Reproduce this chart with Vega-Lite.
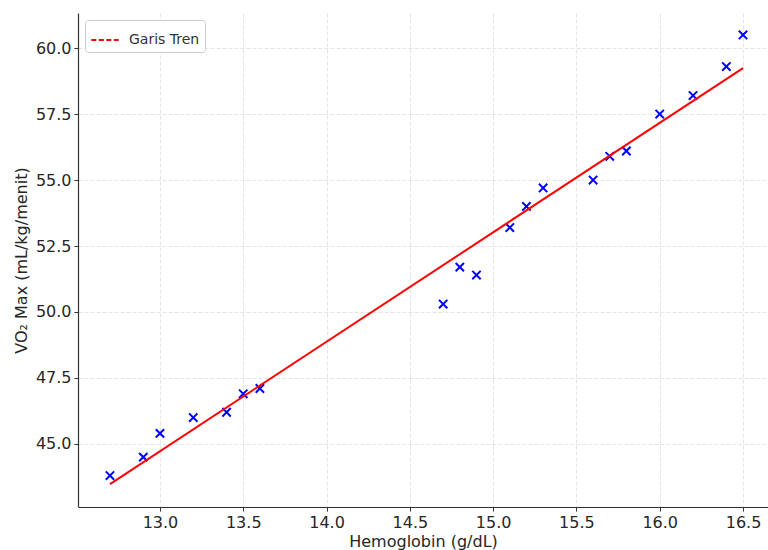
{
  "$schema": "https://vega.github.io/schema/vega-lite/v6.json",
  "autosize": {"type": "none"},
  "padding": {"left": 78, "top": 13, "right": 0, "bottom": 43},
  "width": 690,
  "height": 494,
  "background": "white",
  "config": {
    "font": "DejaVu Sans",
    "view": {"stroke": null},
    "axis": {
      "labelFont": "DejaVu Sans",
      "titleFont": "DejaVu Sans",
      "labelFontSize": 16,
      "titleFontSize": 16,
      "titleFontWeight": "normal",
      "labelColor": "#262626",
      "titleColor": "#262626",
      "domainColor": "#333333",
      "domainWidth": 1.2,
      "tickColor": "#333333",
      "tickSize": 4,
      "labelPadding": 3,
      "gridColor": "#dddddd",
      "gridDash": [4, 2],
      "gridWidth": 0.8
    }
  },
  "datasets": {
    "points": [
      {"hb": 12.7, "vo2": 43.8},
      {"hb": 12.9, "vo2": 44.5},
      {"hb": 13.0, "vo2": 45.4},
      {"hb": 13.2, "vo2": 46.0},
      {"hb": 13.4, "vo2": 46.2},
      {"hb": 13.5, "vo2": 46.9},
      {"hb": 13.6, "vo2": 47.1},
      {"hb": 14.7, "vo2": 50.3},
      {"hb": 14.8, "vo2": 51.7},
      {"hb": 14.9, "vo2": 51.4},
      {"hb": 15.1, "vo2": 53.2},
      {"hb": 15.2, "vo2": 54.0},
      {"hb": 15.3, "vo2": 54.7},
      {"hb": 15.6, "vo2": 55.0},
      {"hb": 15.7, "vo2": 55.9},
      {"hb": 15.8, "vo2": 56.1},
      {"hb": 16.0, "vo2": 57.5},
      {"hb": 16.2, "vo2": 58.2},
      {"hb": 16.4, "vo2": 59.3},
      {"hb": 16.5, "vo2": 60.5}
    ],
    "trend": [
      {"hb": 12.7, "vo2": 43.48, "series": "Garis Tren"},
      {"hb": 16.5, "vo2": 59.24, "series": "Garis Tren"}
    ]
  },
  "layer": [
    {
      "data": {"name": "points"},
      "mark": {
        "type": "point",
        "shape": "M-1,-1L1,1M1,-1L-1,1",
        "filled": false,
        "stroke": "#0000ff",
        "strokeWidth": 2,
        "size": 70,
        "opacity": 1
      },
      "encoding": {
        "x": {
          "field": "hb",
          "type": "quantitative",
          "scale": {"domain": [12.508, 16.65], "nice": false, "zero": false},
          "axis": {
            "title": "Hemoglobin (g/dL)",
            "values": [13.0, 13.5, 14.0, 14.5, 15.0, 15.5, 16.0, 16.5],
            "format": ".1f",
            "titlePadding": 3
          }
        },
        "y": {
          "field": "vo2",
          "type": "quantitative",
          "scale": {"domain": [42.61, 61.33], "nice": false, "zero": false},
          "axis": {
            "title": "VO₂ Max (mL/kg/menit)",
            "values": [45.0, 47.5, 50.0, 52.5, 55.0, 57.5, 60.0],
            "format": ".1f",
            "titlePadding": 6
          }
        }
      }
    },
    {
      "data": {"name": "trend"},
      "mark": {"type": "line", "strokeWidth": 2},
      "encoding": {
        "x": {"field": "hb", "type": "quantitative"},
        "y": {"field": "vo2", "type": "quantitative"},
        "color": {
          "field": "series",
          "type": "nominal",
          "scale": {"domain": ["Garis Tren"], "range": ["#ff0000"]},
          "legend": {
            "title": null,
            "orient": "top-left",
            "offset": 7,
            "symbolType": "stroke",
            "symbolDash": [5, 2.5],
            "symbolStrokeWidth": 2,
            "symbolSize": 750,
            "labelOffset": 9,
            "labelFontSize": 14,
            "labelFont": "DejaVu Sans",
            "labelColor": "#333333",
            "strokeColor": "#cccccc",
            "fillColor": "white",
            "cornerRadius": 3,
            "padding": 5
          }
        }
      }
    }
  ]
}
